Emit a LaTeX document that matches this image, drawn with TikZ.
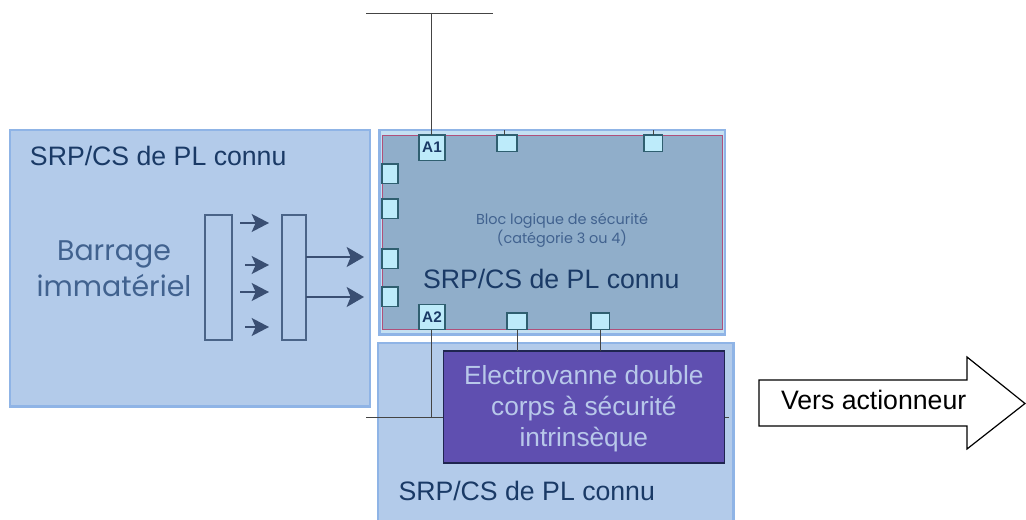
\documentclass[tikz,border=0pt]{standalone}
\usepackage{fontspec}
\setmainfont{Liberation Sans}
\newfontfamily\geofont{Poppins}
\usetikzlibrary{arrows.meta}
\definecolor{panelfill}{HTML}{B3CBEA}
\definecolor{panelline}{HTML}{8FB4E6}
\definecolor{logicband}{HTML}{C4E0F2}
\definecolor{logicfill}{HTML}{90AECA}
\definecolor{logicline}{HTML}{B0507A}
\definecolor{pinfill}{HTML}{BDEBFA}
\definecolor{pinline}{HTML}{2F5F70}
\definecolor{purplefill}{HTML}{5F4FB0}
\definecolor{purpleline}{HTML}{1F2550}
\definecolor{purpletext}{HTML}{B8C8EA}
\definecolor{navytext}{HTML}{1A3A66}
\definecolor{arttext}{HTML}{41628F}
\definecolor{artline}{HTML}{4A6488}
\definecolor{artarrow}{HTML}{3A4F73}
\definecolor{wire}{HTML}{444444}
\tikzset{
  x=0.75pt,y=-0.75pt,
  every node/.style={inner sep=0pt,outer sep=0pt},
  panel/.style={draw=panelline,line width=1.8pt,fill=panelfill},
  logicbox/.style={draw=logicline,line width=0.7pt,fill=logicfill},
  pin/.style={draw=pinline,line width=0.8pt,fill=pinfill},
  bigpin/.style={pin,font=\bfseries\fontsize{11.5}{11.5}\selectfont,text=navytext},
  artbox/.style={draw=artline,line width=1.3pt},
  wireline/.style={draw=wire,line width=0.7pt},
  smallarrow/.style={draw=artarrow,line width=1.2pt,-{Stealth[length=13pt,width=13.5pt,inset=3pt]}},
  bigarrow/.style={draw=artarrow,line width=1.2pt,-{Stealth[length=13pt,width=15pt,inset=3pt]}},
  label/.style={text=navytext,font=\fontsize{20}{24}\selectfont,anchor=base west},
}
\begin{document}
\begin{tikzpicture}
\useasboundingbox (0,0) rectangle (1026,520);
% panels
\node[panel,anchor=north west,minimum width=270pt,minimum height=207.5pt] (left) at (10,130) {};
\node[panel,fill=logicband,anchor=north west,minimum width=259pt,minimum height=153.5pt] (logicouter) at (379.5,130) {};
\node[logicbox,anchor=north west,minimum width=255.5pt,minimum height=146pt] (logic) at (382,135) {};
\node[panel,anchor=north west,minimum width=266.5pt,minimum height=135pt] (bottom) at (378,343) {};
% bus
\coordinate (busL) at (366,417);
\coordinate (busR) at (729,417);
\coordinate (topL) at (366,13);
\coordinate (topR) at (493,13);
\coordinate (topM) at (431,13);
\coordinate (busM) at (431,417);
\draw[wireline] (topL) -- (topR);
\draw[wireline] (busL) -- (busR);
% pins
\node[bigpin,anchor=north west,minimum width=19.5pt,minimum height=19pt] (a1) at (419,135) {A1};
\node[bigpin,anchor=north west,minimum width=19.5pt,minimum height=19pt] (a2) at (419,304.5) {A2};
\node[pin,anchor=north west,minimum width=15pt,minimum height=12.5pt] (t1) at (497,135) {};
\node[pin,anchor=north west,minimum width=14pt,minimum height=12.5pt] (t2) at (644,135) {};
\node[pin,anchor=north west,minimum width=15pt,minimum height=12.5pt] (b1) at (507,313) {};
\node[pin,anchor=north west,minimum width=14pt,minimum height=12.5pt] (b2) at (591,313) {};
\node[pin,anchor=north west,minimum width=12pt,minimum height=14.5pt] (l1) at (382,164) {};
\node[pin,anchor=north west,minimum width=12pt,minimum height=14.5pt] (l2) at (382,199) {};
\node[pin,anchor=north west,minimum width=12pt,minimum height=14.5pt] (l3) at (382,249) {};
\node[pin,anchor=north west,minimum width=12pt,minimum height=14.5pt] (l4) at (382,287) {};
% purple
\node[draw=purpleline,line width=1pt,fill=purplefill,anchor=north west,
  minimum width=210.5pt,minimum height=84pt] (valve) at (443.5,351) {};
\node[text=purpletext,align=center,font=\fontsize{19.7}{23.3}\selectfont] (valvetext) at ([yshift=-1.5pt]valve.center)
  {Electrovanne double\\corps à sécurité\\intrinsèque};
% wires
\draw[wireline] (topM) -- (a1.north -| topM);
\draw[wireline] (a2.south -| busM) -- (busM);
\draw[wireline] ([xshift=-1.7pt]t1.north) -- ++(0,-5);
\draw[wireline] (t2.north) -- ++(0,-5);
\draw[wireline] (b1.south) -- (b1.south |- valve.north);
\draw[wireline] (b2.south) -- (b2.south |- valve.north);
% labels
\node[label] (lab1) at (30,165.5) {SRP/CS de PL connu};
\node[label] (lab2) at (423,288.5) {SRP/CS de PL connu};
\node[label] (lab3) at (398.5,501) {SRP/CS de PL connu};
\node[text=arttext,font=\geofont\fontsize{10.8}{12}\selectfont,align=center] (bloc) at (562,230)
  {Bloc logique de sécurité\\(catégorie 3 ou 4)};
\node[text=arttext,font=\geofont\fontsize{21.3}{27}\selectfont,align=center] (barrage) at (114,269)
  {Barrage\\immatériel};
% art
\node[artbox,anchor=north west,minimum width=20pt,minimum height=93.5pt] (e) at (205,215) {};
\node[artbox,anchor=north west,minimum width=18pt,minimum height=93.5pt] (r) at (282,215) {};
\coordinate (s1) at (240,223); \coordinate (d1) at (269,223);
\coordinate (s2) at (245,265); \coordinate (d2) at (269,265);
\coordinate (s3) at (240,292); \coordinate (d3) at (269,292);
\coordinate (s4) at (245,327); \coordinate (d4) at (269,327);
\coordinate (d5) at (364,257);
\coordinate (d6) at (364,297);
\draw[smallarrow] (s1) -- (d1);
\draw[smallarrow] (s2) -- (d2);
\draw[smallarrow] (s3) -- (d3);
\draw[smallarrow] (s4) -- (d4);
\draw[bigarrow] (r.east |- d5) -- (d5);
\draw[bigarrow] (r.east |- d6) -- (d6);
% output arrow
\draw[black,line width=0.9pt,fill=white] (759,380) -- (967,380) -- (967,357) -- (1025,403.5) -- (967,449) -- (967,426) -- (759,426) -- cycle;
\node[text=black,font=\fontsize{20}{24}\selectfont,anchor=base west] (vers) at (781,410) {Vers actionneur};
\end{tikzpicture}
\end{document}
